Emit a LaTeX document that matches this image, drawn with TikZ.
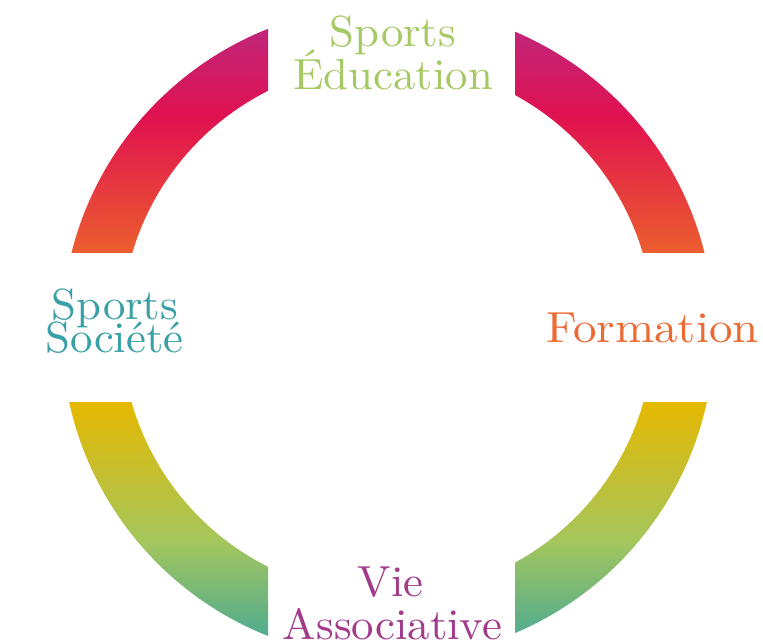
\documentclass[tikz,border=0pt]{standalone}
\usepackage{fontspec}
\newfontfamily\lblfont{lmroman10-regular.otf}[FakeStretch=1.03]
\definecolor{cpurple}{HTML}{C0267A}
\definecolor{ccrimson}{HTML}{E01150}
\definecolor{corange}{HTML}{EC5F2E}
\definecolor{cyellow}{HTML}{E6B800}
\definecolor{cgreen}{HTML}{A5C65C}
\definecolor{cteal}{HTML}{50AC90}
\definecolor{tgreen}{HTML}{A5C963}
\definecolor{tteal}{HTML}{3AA0A8}
\definecolor{torange}{HTML}{EE6A33}
\definecolor{tpurple}{HTML}{A33B8B}
\tikzset{
  lbl/.style={anchor=base, inner sep=0pt,
    font=\lblfont\fontsize{43.5}{43.5}\selectfont},
}
\newcommand{\topbands}[2]{%
  \shade[top color=cpurple, bottom color=ccrimson] (#1,27) rectangle (#2,117.5);
  \shade[top color=ccrimson, bottom color=corange] (#1,117) rectangle (#2,254);
}
\newcommand{\botbands}[2]{%
  \shade[top color=cyellow, bottom color=cgreen] (#1,400) rectangle (#2,540.5);
  \shade[top color=cgreen, bottom color=cteal] (#1,540) rectangle (#2,636);
}
\begin{document}
\begin{tikzpicture}[x=1pt,y=-1pt]
\useasboundingbox (0,0) rectangle (763,641);
\fill[white] (0,0) rectangle (763,641);
\coordinate (oc) at (388,332.4);
\coordinate (ic) at (387.5,328.8);
% top-left arc
\begin{scope}
  \clip (0,0) rectangle (268,252);
  \clip (oc) circle (326.3pt);
  \topbands{40}{270}
\end{scope}
% top-right arc
\begin{scope}
  \clip (515,0) rectangle (763,252);
  \clip (oc) circle (326.3pt);
  \topbands{513}{730}
\end{scope}
% bottom-left arc
\begin{scope}
  \clip (0,402) rectangle (268,641);
  \clip (oc) circle (326.3pt);
  \botbands{40}{270}
\end{scope}
% bottom-right arc
\begin{scope}
  \clip (515,402) rectangle (763,641);
  \clip (oc) circle (326.3pt);
  \botbands{513}{730}
\end{scope}
% inner hole
\fill[white] (ic) circle (266.1pt);
% labels
\node[lbl, text=tgreen] (se1) at (393,46.7) {Sports};
\node[lbl, text=tgreen] (se2) at (393,89.3) {Éducation};
\node[lbl, text=tteal] (ss1) at (115,319) {Sports};
\node[lbl, text=tteal] (ss2) at (114.5,352.7) {Société};
\node[lbl, text=torange] (fo) at (652.5,342.3) {\scalebox{1.05}[1]{Formation}};
\node[lbl, text=tpurple] (va1) at (390.5,596.7) {Vie};
\node[lbl, text=tpurple] (va2) at (392.5,639.3) {Associative};
\end{tikzpicture}
\end{document}
